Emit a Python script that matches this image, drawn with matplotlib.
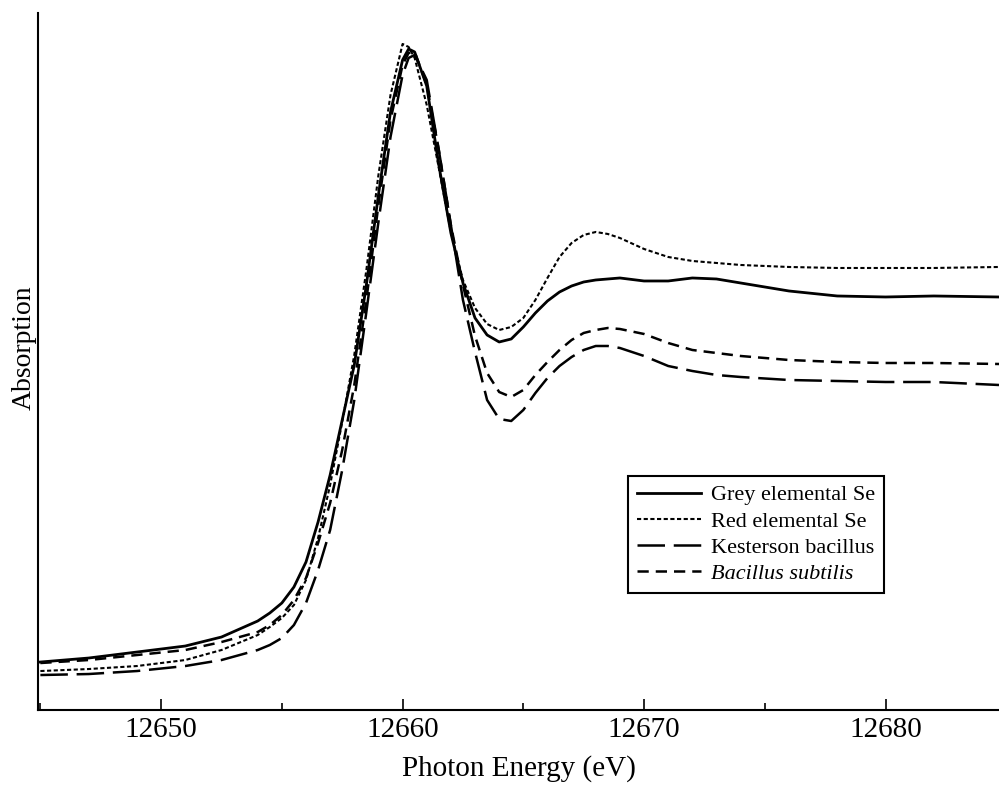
import matplotlib.pyplot as plt
from matplotlib.ticker import MultipleLocator
plt.switch_backend('agg')

plt.rcParams['font.family'] = ['Liberation Serif', 'DejaVu Serif']

# photon energy grid (eV) shared by all four spectra
energy = [12645, 12647, 12649, 12651, 12652.5, 12654, 12654.5, 12655, 12655.5, 12656,
          12656.5, 12657, 12657.5, 12658, 12658.5, 12659, 12659.5, 12660, 12660.25, 12660.5,
          12661, 12661.5, 12662, 12662.5, 12663, 12663.5, 12664, 12664.5, 12665, 12665.5,
          12666, 12666.5, 12667, 12667.5, 12668, 12668.5, 12669, 12670, 12671, 12672,
          12673, 12674, 12676, 12678, 12680, 12682, 12684.7]

# absorption, arbitrary units
grey_se = [0.48, 0.52, 0.58, 0.64, 0.73, 0.89, 0.97, 1.07, 1.23, 1.48,
           1.88, 2.35, 2.90, 3.45, 4.25, 5.15, 5.98, 6.50, 6.61, 6.58,
           6.24, 5.45, 4.77, 4.27, 3.92, 3.75, 3.68, 3.71, 3.83, 3.97,
           4.09, 4.18, 4.24, 4.28, 4.30, 4.31, 4.32, 4.29, 4.29, 4.32,
           4.31, 4.27, 4.19, 4.14, 4.13, 4.14, 4.13]
red_se = [0.39, 0.41, 0.44, 0.50, 0.60, 0.75, 0.83, 0.92, 1.05, 1.30,
          1.72, 2.25, 2.88, 3.55, 4.40, 5.35, 6.15, 6.66, 6.63, 6.52,
          6.05, 5.42, 4.78, 4.30, 4.02, 3.86, 3.80, 3.83, 3.92, 4.10,
          4.32, 4.53, 4.67, 4.75, 4.78, 4.76, 4.72, 4.61, 4.53, 4.49,
          4.47, 4.45, 4.43, 4.42, 4.42, 4.42, 4.43]
kesterson = [0.35, 0.36, 0.39, 0.44, 0.50, 0.60, 0.65, 0.72, 0.85, 1.07,
             1.40, 1.80, 2.40, 3.10, 3.98, 4.88, 5.73, 6.35, 6.52, 6.55,
             6.30, 5.60, 4.85, 4.10, 3.58, 3.10, 2.91, 2.89, 3.00, 3.17,
             3.32, 3.44, 3.53, 3.60, 3.64, 3.64, 3.62, 3.54, 3.44, 3.39,
             3.35, 3.33, 3.30, 3.29, 3.28, 3.28, 3.25]
subtilis = [0.47, 0.50, 0.55, 0.60, 0.68, 0.78, 0.85, 0.95, 1.10, 1.32,
            1.67, 2.07, 2.60, 3.25, 4.10, 5.05, 5.90, 6.45, 6.57, 6.58,
            6.25, 5.60, 4.85, 4.25, 3.74, 3.37, 3.18, 3.13, 3.20, 3.35,
            3.48, 3.60, 3.70, 3.77, 3.80, 3.82, 3.81, 3.76, 3.67, 3.60,
            3.57, 3.54, 3.50, 3.48, 3.47, 3.47, 3.46]

labels = ['Grey elemental Se', 'Red elemental Se', 'Kesterson bacillus', 'Bacillus subtilis']

fig = plt.figure(figsize=(9.99, 7.85), dpi=100)
ax = fig.add_axes([0.038, 0.0955, 0.962, 0.888])

style = dict(color='black', solid_joinstyle='round', dash_joinstyle='round')
ax.plot(energy, grey_se, linewidth=2.0, linestyle='-', label=labels[0], **style)
ax.plot(energy, red_se, linewidth=1.5, linestyle=(0, (2, 1.2)), label=labels[1], **style)
ax.plot(energy, kesterson, linewidth=1.8, linestyle=(0, (11, 3.5)), label=labels[2], **style)
ax.plot(energy, subtilis, linewidth=1.8, linestyle=(0, (4.5, 2.8)), label=labels[3], **style)

ax.set_xlim(12644.9, 12684.7)
ax.set_ylim(0, 6.97)
ax.spines['top'].set_visible(False)
ax.spines['right'].set_visible(False)
ax.spines['left'].set_linewidth(1.5)
ax.spines['bottom'].set_linewidth(1.5)
ax.set_yticks([])
ax.xaxis.set_major_locator(MultipleLocator(10))
ax.xaxis.set_minor_locator(MultipleLocator(5))
ax.tick_params(axis='x', which='major', direction='in', length=8, width=1.2, labelsize=21, pad=5)
ax.tick_params(axis='x', which='minor', direction='in', length=5, width=1.2)
ax.ticklabel_format(axis='x', useOffset=False, style='plain')

ax.set_xlabel('Photon Energy (eV)', fontsize=21, labelpad=9)
fig.text(24 / 999, 1 - 348 / 785, 'Absorption', rotation=90, ha='center', va='center', fontsize=20)

leg = ax.legend(loc='upper left', bbox_to_anchor=(628 / 999, 1 - 476 / 785),
                bbox_transform=fig.transFigure, borderaxespad=0, fontsize=16,
                handlelength=2.9, handletextpad=0.45, labelspacing=0.25,
                borderpad=0.4, fancybox=False, framealpha=1, edgecolor='black')
leg.get_frame().set_linewidth(1.5)
leg.get_texts()[3].set_style('italic')

plt.savefig('out.png', dpi=100)
